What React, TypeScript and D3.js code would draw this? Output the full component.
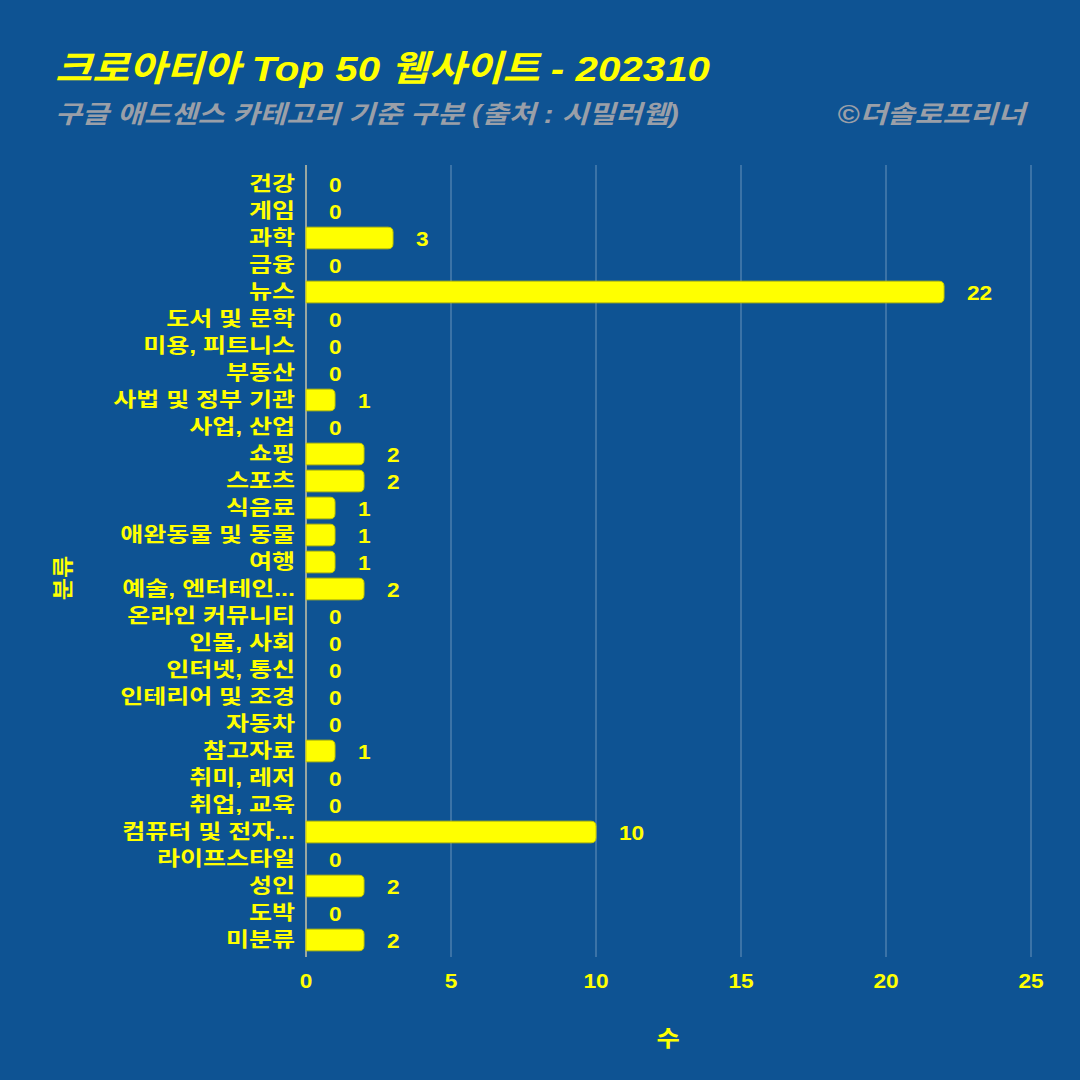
import React from "react";
import * as d3 from "d3";

const categories = ["건강","게임","과학","금융","뉴스","도서 및 문학","미용, 피트니스","부동산","사법 및 정부 기관","사업, 산업","쇼핑","스포츠","식음료","애완동물 및 동물","여행","예술, 엔터테인...","온라인 커뮤니티","인물, 사회","인터넷, 통신","인테리어 및 조경","자동차","참고자료","취미, 레저","취업, 교육","컴퓨터 및 전자...","라이프스타일","성인","도박","미분류"];
const values = [0,0,3,0,22,0,0,0,1,0,2,2,1,1,1,2,0,0,0,0,0,1,0,0,10,0,2,0,2];
const xTicks = [0,5,10,15,20,25];

const title = "크로아티아 Top 50 웹사이트 - 202310";
const subtitle = "구글 애드센스 카테고리 기준 구분 (출처 : 시밀러웹)";
const credit = "©더솔로프리너";

const BG = "#0E5393";
const YEL = "#FFFF00";
const FONT = "'Liberation Sans', Arial, 'Noto Sans CJK KR', sans-serif";

function T(props: any) {
  const { x, y, sx = 1, rot = 0, children, ...rest } = props;
  return (
    <text transform={`translate(${x},${y}) rotate(${rot}) scale(${sx},1)`} {...rest}>{children}</text>
  );
}

export default function App() {
  const W = 1080, H = 1080;
  const left = 306, right = 1031, top = 170.5, bottom = 953.5;
  const x = d3.scaleLinear().domain([0, 25]).range([left, right]);
  const y = d3.scaleBand().domain(categories).range([top, bottom]).paddingInner(0.2).paddingOuter(0.1);
  const bh = y.bandwidth();
  const r = 5;
  const barPath = (v: number, yy: number) => {
    const x0 = x(0), x1 = x(v);
    const w = x1 - x0;
    const rr = Math.min(r, w / 2);
    return `M${x0},${yy} H${x1 - rr} Q${x1},${yy} ${x1},${yy + rr} V${yy + bh - rr} Q${x1},${yy + bh} ${x1 - rr},${yy + bh} H${x0} Z`;
  };
  return (
    <svg width={W} height={H} style={{ display: "block", position: "absolute", left: 0, top: 0 }} fontFamily={FONT}>
      <rect width={W} height={H} fill={BG} />
      <T x={55} y={81} sx={1.12} fill={YEL} fontSize={36} fontWeight="bold" fontStyle="italic">{title}</T>
      <T x={55} y={123} sx={1.17} fill="#9a9fa8" fontSize={25} fontWeight="bold" fontStyle="italic">{subtitle}</T>
      <T x={1025} y={123} sx={1.2} fill="#9a9fa8" fontSize={25} fontWeight="bold" fontStyle="italic" textAnchor="end">{credit}</T>
      {xTicks.map((t) => (
        <line key={t} x1={x(t)} x2={x(t)} y1={165} y2={957} stroke="#ffffff" strokeOpacity={0.25} strokeWidth={1.5} />
      ))}
      <line x1={x(0)} x2={x(0)} y1={165} y2={957} stroke="#9aa7a0" strokeWidth={2} />
      {categories.map((c, i) => {
        const yy = y(c)!;
        const v = values[i];
        return (
          <g key={c}>
            {v > 0 && <path d={barPath(v, yy)} fill={YEL} stroke="#c8c800" strokeWidth={1} />}
            <T x={x(v) + 23} y={yy + bh / 2 + 7.5} sx={1.08} fill={YEL} fontSize={21} fontWeight="bold">{v}</T>
            <T x={295} y={yy + bh / 2 + 7} sx={1.25} fill={YEL} fontSize={20} fontWeight="bold" textAnchor="end">{c}</T>
          </g>
        );
      })}
      {xTicks.map((t) => (
        <T key={t} x={x(t)} y={988} sx={1.08} fill={YEL} fontSize={21} fontWeight="bold" textAnchor="middle">{t}</T>
      ))}
      <T x={668} y={1046} sx={1.15} fill={YEL} fontSize={22} fontWeight="bold" textAnchor="middle">수</T>
      <T x={70} y={578} rot={-90} sx={1.15} fill={YEL} fontSize={21} fontWeight="bold" textAnchor="middle">분류</T>
    </svg>
  );
}
